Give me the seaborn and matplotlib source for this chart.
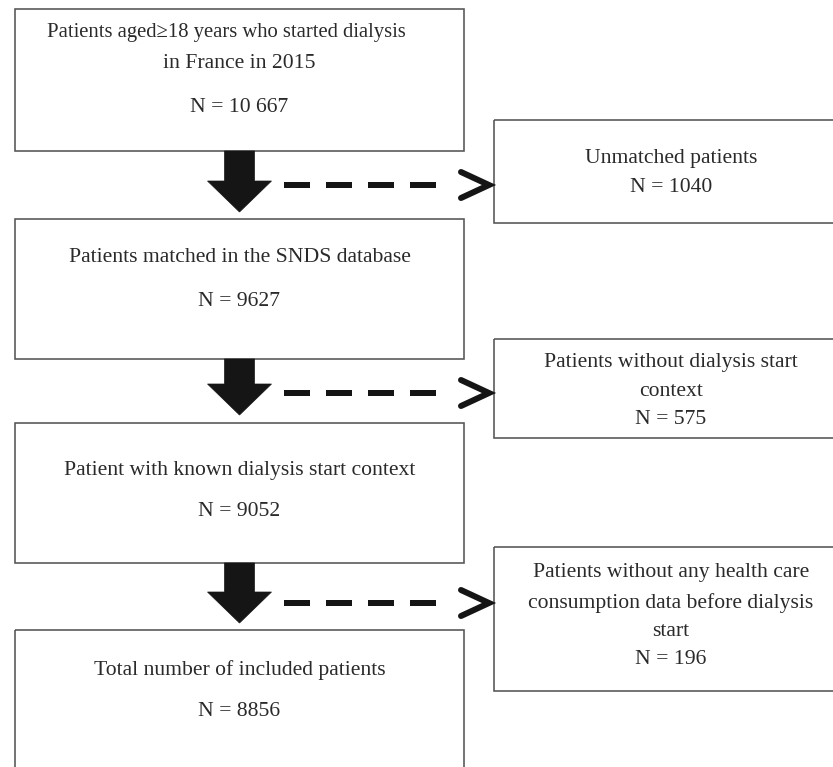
import matplotlib
matplotlib.use("Agg")
import matplotlib.pyplot as plt
from matplotlib.patches import Rectangle, Polygon
import seaborn as sns

# ---- data ----
main_titles = [
    ["Patients aged\u226518 years who started dialysis", "in France in 2015"],
    ["Patients matched in the SNDS database"],
    ["Patient with known dialysis start context"],
    ["Total number of included patients"],
]
main_counts = ["10 667", "9627", "9052", "8856"]
excluded_titles = [
    ["Unmatched patients"],
    ["Patients without dialysis start", "context"],
    ["Patients without any health care", "consumption data before dialysis", "start"],
]
excluded_counts = ["1040", "575", "196"]

# ---- layout (pixel coordinates) ----
W, H = 833, 767
main_x0, main_x1 = 15, 464
main_boxes_y = [(9, 151), (219, 359), (423, 563), (630, 790)]
main_title_y = [[32, 63], [258], [470], [670]]
main_n_y = [108, 302, 512, 712]

side_x0, side_x1 = 494, 848
side_boxes_y = [(120, 223), (339, 438), (547, 691)]
side_line_y = [[158, 187], [362, 392, 419], [573, 603, 632, 660]]

big_arrows = [(151, 181, 212), (359, 384, 415), (563, 592, 623)]
dash_y = [185, 393, 603]

sns.set_theme(style="white")
plt.rcParams["font.family"] = ["Liberation Serif", "DejaVu Serif"]

fig = plt.figure(figsize=(W / 100, H / 100), dpi=100)
ax = fig.add_axes([0, 0, 1, 1])
ax.set_xlim(0, W)
ax.set_ylim(H, 0)
ax.axis("off")

edge = "#555555"
txt = "#2a2a2a"
ink = "#151515"
fs = 15.6
px = 0.72  # points per pixel

cx_main = (main_x0 + main_x1) / 2
cx_side = (side_x0 + side_x1) / 2

for i, (y0, y1) in enumerate(main_boxes_y):
    ax.add_patch(Rectangle((main_x0, y0), main_x1 - main_x0, y1 - y0,
                           fill=False, ec=edge, lw=1.6 * px))
    for j, (line, ly) in enumerate(zip(main_titles[i], main_title_y[i])):
        xoff = -13 if (i == 0 and j == 0) else 0
        fsize = fs * 0.95 if (i == 0 and j == 0) else fs
        ax.text(cx_main + xoff, ly, line, ha="center", va="center",
                fontsize=fsize, color=txt)
    ax.text(cx_main, main_n_y[i], f"N = {main_counts[i]}", ha="center",
            va="center", fontsize=fs, color=txt)

for i, (y0, y1) in enumerate(side_boxes_y):
    ax.add_patch(Rectangle((side_x0, y0), side_x1 - side_x0, y1 - y0,
                           fill=False, ec=edge, lw=1.6 * px))
    lines = excluded_titles[i] + [f"N = {excluded_counts[i]}"]
    for line, ly in zip(lines, side_line_y[i]):
        ax.text(cx_side, ly, line, ha="center", va="center",
                fontsize=fs, color=txt)

# big down arrows
shaft_half, head_half = 15, 32
for (top, head_top, tip) in big_arrows:
    pts = [(cx_main - shaft_half, top), (cx_main + shaft_half, top),
           (cx_main + shaft_half, head_top), (cx_main + head_half, head_top),
           (cx_main, tip), (cx_main - head_half, head_top),
           (cx_main - shaft_half, head_top)]
    ax.add_patch(Polygon(pts, closed=True, fc=ink, ec=ink, lw=0.5))

# dashed arrows
lw_d = 6 * px
for y in dash_y:
    ax.plot([284, 440], [y, y], color=ink, lw=lw_d,
            linestyle=(0, (26 * px / lw_d, 16 * px / lw_d)),
            solid_capstyle="butt", dash_capstyle="butt")
    ax.plot([461, 489, 461], [y - 13, y, y + 13], color=ink, lw=lw_d,
            solid_capstyle="round", solid_joinstyle="miter")

fig.savefig("out.png", dpi=100, facecolor="white")
